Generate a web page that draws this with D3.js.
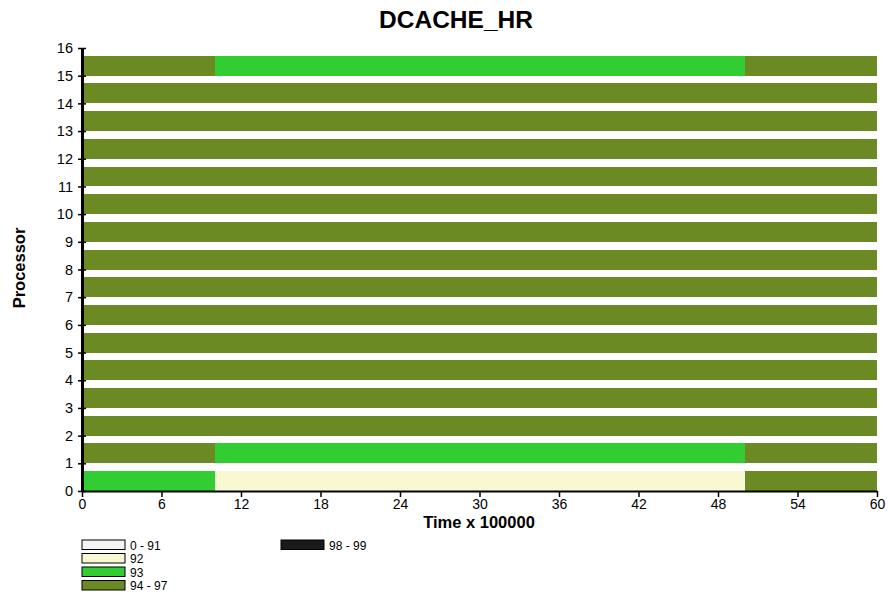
<!DOCTYPE html>
<html>
<head>
<meta charset="utf-8">
<script src="https://cdn.jsdelivr.net/npm/d3@7"></script>
<style>
  body { margin: 0; background: #fff; }
  text { font-family: "Liberation Sans", Arial, sans-serif; }
</style>
</head>
<body>
<div id="chart"></div>
<script>
// data
var processors = d3.range(0, 16);
var segStart = [0, 10, 50];
var segEnd = [10, 50, 60];
// class of each segment per processor (row 0 .. row 15)
var rowClasses = [
  ["93", "92", "94 - 97"],
  ["94 - 97", "93", "94 - 97"],
  ["94 - 97", "94 - 97", "94 - 97"],
  ["94 - 97", "94 - 97", "94 - 97"],
  ["94 - 97", "94 - 97", "94 - 97"],
  ["94 - 97", "94 - 97", "94 - 97"],
  ["94 - 97", "94 - 97", "94 - 97"],
  ["94 - 97", "94 - 97", "94 - 97"],
  ["94 - 97", "94 - 97", "94 - 97"],
  ["94 - 97", "94 - 97", "94 - 97"],
  ["94 - 97", "94 - 97", "94 - 97"],
  ["94 - 97", "94 - 97", "94 - 97"],
  ["94 - 97", "94 - 97", "94 - 97"],
  ["94 - 97", "94 - 97", "94 - 97"],
  ["94 - 97", "94 - 97", "94 - 97"],
  ["94 - 97", "93", "94 - 97"]
];
var legendLabels = ["0 - 91", "92", "93", "94 - 97", "98 - 99"];
var legendColors = ["#f4f4f4", "#f8f8d2", "#32cd32", "#6b8a23", "#1a1a1a"];
var xTicks = [0, 6, 12, 18, 24, 30, 36, 42, 48, 54, 60];
var yTicks = d3.range(0, 17);

var margin = { top: 48, right: 11, bottom: 104, left: 82 },
    width = 888 - margin.left - margin.right,
    height = 595 - margin.top - margin.bottom;

var color = d3.scaleOrdinal().domain(legendLabels).range(legendColors);
var x = d3.scaleLinear().domain([0, 60]).range([0, width]);
var y = d3.scaleLinear().domain([0, 16]).range([height, 0]);

var svgRoot = d3.select("#chart").append("svg")
  .attr("width", 888).attr("height", 595);

var svg = svgRoot.append("g")
  .attr("transform", "translate(" + margin.left + "," + margin.top + ")");

// bars (adjacent segments of the same class merged so no seams show)
var segs = [];
processors.forEach(function (p) {
  rowClasses[p].forEach(function (c, i) {
    var last = segs[segs.length - 1];
    if (last && last.p === p && last.cls === c && last.end === segStart[i]) {
      last.end = segEnd[i];
    } else {
      segs.push({ p: p, start: segStart[i], end: segEnd[i], cls: c });
    }
  });
});

svg.selectAll(".seg")
  .data(segs)
  .enter()
  .append("rect")
  .attr("class", "seg")
  .attr("shape-rendering", "crispEdges")
  .attr("x", function (d) { return Math.round(x(d.start)) + (d.start === 0 ? 2 : 0); })
  .attr("width", function (d) {
    return Math.round(x(d.end)) - Math.round(x(d.start)) - (d.start === 0 ? 2 : 0);
  })
  .attr("y", function (d) { return Math.round(y(d.p + 0.72)); })
  .attr("height", function (d) { return Math.round(y(d.p)) - Math.round(y(d.p + 0.72)); })
  .attr("fill", function (d) { return color(d.cls); });

// x axis
var xAxis = svg.append("g")
  .attr("transform", "translate(0," + height + ")")
  .call(d3.axisBottom(x).tickValues(xTicks).tickSize(6).tickSizeOuter(0));
xAxis.select(".domain").attr("stroke", "#000").attr("stroke-width", 2);
xAxis.selectAll(".tick line").attr("stroke-width", 1.5);
xAxis.selectAll("text").attr("font-size", 14).attr("fill", "#000").attr("y", 8);

// y axis
var yAxis = svg.append("g")
  .call(d3.axisLeft(y).tickValues(yTicks).tickSize(4).tickSizeOuter(0).tickPadding(4));
yAxis.select(".domain").attr("stroke", "#000").attr("stroke-width", 3);
yAxis.selectAll(".tick line").attr("x2", 4).attr("x1", -4).attr("stroke-width", 1.5);
yAxis.selectAll("text").attr("font-size", 14.5).attr("fill", "#000").attr("x", -9);

// title and labels
svgRoot.append("text")
  .attr("x", 456).attr("y", 28)
  .attr("text-anchor", "middle")
  .attr("font-size", 24.5).attr("font-weight", "bold")
  .text("DCACHE_HR");

svgRoot.append("text")
  .attr("x", 479).attr("y", 528)
  .attr("text-anchor", "middle")
  .attr("font-size", 16.5).attr("font-weight", "bold")
  .text("Time x 100000");

svgRoot.append("text")
  .attr("transform", "translate(25,268) rotate(-90)")
  .attr("text-anchor", "middle")
  .attr("font-size", 16.5).attr("font-weight", "bold")
  .text("Processor");

// legend
var legend = svgRoot.append("g");
var items = legend.selectAll(".item")
  .data(legendLabels)
  .enter()
  .append("g")
  .attr("class", "item")
  .attr("transform", function (d, i) {
    var col = i < 4 ? 0 : 1, row = i < 4 ? i : 0;
    return "translate(" + (82 + col * 199) + "," + (540 + row * 13.5) + ")";
  });
items.append("rect")
  .attr("width", 43).attr("height", 9.5)
  .attr("fill", function (d) { return color(d); })
  .attr("stroke", "#000").attr("stroke-width", 1);
items.append("text")
  .attr("x", 48).attr("y", 9.5)
  .attr("font-size", 12)
  .text(function (d) { return d; });
</script>
</body>
</html>
